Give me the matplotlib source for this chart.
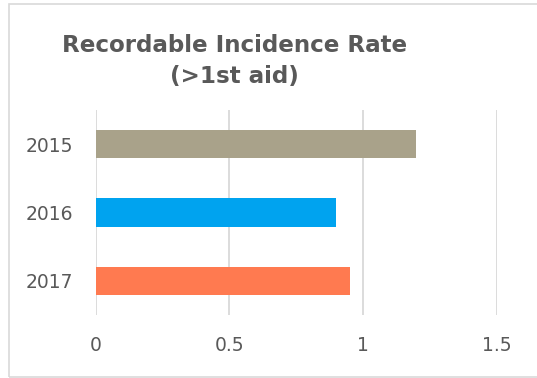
import matplotlib.pyplot as plt
from matplotlib.patches import Rectangle

years = ["2015", "2016", "2017"]
rates = [1.20, 0.90, 0.95]
colors = ["#A9A28A", "#00A3EF", "#FF7A50"]
x_ticks = [0, 0.5, 1, 1.5]
x_tick_labels = ["0", "0.5", "1", "1.5"]

W, H = 537, 378
fig = plt.figure(figsize=(W / 100, H / 100), dpi=100)
fig.patch.set_facecolor("white")

# light chart-area border
fig.patches.append(Rectangle((9 / W, 1.5 / H), (W + 20) / W, (H - 5) / H,
                             transform=fig.transFigure, fill=False,
                             edgecolor="#D9D9D9", linewidth=1.2))

left, right = 95.7 / W, 496.7 / W
top, bottom = 1 - 109.75 / H, 1 - 315.25 / H
ax = fig.add_axes([left, bottom, right - left, top - bottom])

ypos = list(range(len(years)))
ax.barh(ypos, rates, height=0.41, color=colors, zorder=3)
ax.set_ylim(len(years) - 0.5, -0.5)
ax.set_xlim(0, 1.5)

ax.set_yticks(ypos)
ax.set_yticklabels(years)
ax.set_xticks(x_ticks)
ax.set_xticklabels(x_tick_labels)
ax.tick_params(axis="both", length=0, labelsize=13.5, labelcolor="#595959")
ax.tick_params(axis="y", pad=16)
ax.tick_params(axis="x", pad=15)

ax.grid(axis="x", color="#D9D9D9", linewidth=1.3, zorder=0)
for s in ax.spines.values():
    s.set_visible(False)

fig.text(234.5 / W, 1 - 45 / H, "Recordable Incidence Rate", ha="center",
         va="center", fontsize=16.6, fontweight="bold", color="#595959")
fig.text(234.5 / W, 1 - 77 / H, "(>1st aid)", ha="center",
         va="center", fontsize=16.6, fontweight="bold", color="#595959")

fig.savefig("out.png", dpi=100)
